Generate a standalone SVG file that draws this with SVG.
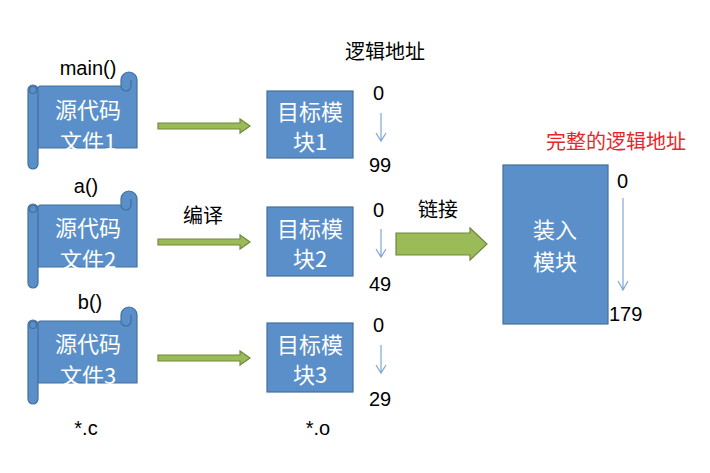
<svg xmlns="http://www.w3.org/2000/svg" width="710" height="473" viewBox="0 0 710 473">
<style>
.b{fill:#5b8fc9;stroke:#41719c;stroke-width:1.2}
.w{font-family:"Noto Sans CJK SC","Liberation Sans",sans-serif;font-size:22px;fill:#fff;text-anchor:middle}
.k{font-family:"Liberation Sans","Noto Sans CJK SC",sans-serif;font-size:20px;fill:#000;text-anchor:middle}
.g{fill:#9bbb59;stroke:#71893f;stroke-width:1.2}
.t{stroke:#7da7d8;stroke-width:1.2;fill:none}
</style>
<defs>
<g id="scroll">
<path class="b" d="M24,8 H105 V2 a8,8 0 0 1 16,0 V70 H18 V12 Z"/>
<path class="b" d="M12,12 V86 a5,5 0 0 0 10,0 V12 a5,5 0 0 0 -10,0 Z"/>
<path class="b" d="M105,8 a5,5 0 0 0 10,0 V2" />
<circle cx="17" cy="12" r="3.5" class="b"/>
</g>
</defs>
<g id="labels">
<text class="k" x="88" y="75">main()</text>
<text class="k" x="86" y="193">a()</text>
<text class="k" x="90" y="309">b()</text>
<text class="k" x="86" y="435">*.c</text>
<text class="k" x="318" y="435">*.o</text>
<text class="k" x="385" y="59">逻辑地址</text>
<text class="k" x="616" y="149" style="fill:#e8262a">完整的逻辑地址</text>
<text class="k" x="203" y="223">编译</text>
<text class="k" x="438" y="217">链接</text>
</g>
<g id="src1"><use href="#scroll" transform="translate(16,78)"/><text class="w" x="88" y="118">源代码</text><text class="w" x="88" y="150">文件1</text></g>
<g id="src2"><use href="#scroll" transform="translate(16,197)"/><text class="w" x="88" y="236">源代码</text><text class="w" x="88" y="268">文件2</text></g>
<g id="src3"><use href="#scroll" transform="translate(16,313)"/><text class="w" x="88" y="352">源代码</text><text class="w" x="88" y="384">文件3</text></g>
<g id="obj1"><rect class="b" x="267" y="91" width="86" height="67"/><text class="w" x="310" y="120">目标模</text><text class="w" x="310" y="150">块1</text></g>
<g id="obj2"><rect class="b" x="267" y="207" width="86" height="69"/><text class="w" x="310" y="237">目标模</text><text class="w" x="310" y="267">块2</text></g>
<g id="obj3"><rect class="b" x="267" y="323" width="86" height="69"/><text class="w" x="310" y="353">目标模</text><text class="w" x="310" y="383">块3</text></g>
<g id="load"><rect class="b" x="503" y="165" width="105" height="159"/><text class="w" x="555" y="238">装入</text><text class="w" x="555" y="270">模块</text></g>
<g id="connectors">
<path class="g" d="M158,123 H240 V119 L250,126 L240,133 V129 H158 Z"/>
<path class="g" d="M158,239 H240 V235 L250,242 L240,249 V245 H158 Z"/>
<path class="g" d="M158,355 H240 V351 L250,358 L240,365 V361 H158 Z"/>
<path class="g" d="M396,233 H470 V228 L487,244 L470,260 V255 H396 Z"/>
<path class="t" d="M381,113 V140 M376,133 L381,141 L386,133"/>
<path class="t" d="M381,229 V256 M376,249 L381,257 L386,249"/>
<path class="t" d="M381,345 V372 M376,365 L381,373 L386,365"/>
<path class="t" d="M623,198 V289 M618,281 L623,290 L628,281"/>
</g>
<g id="nums" font-family="Liberation Sans,sans-serif" font-size="20">
<text x="373" y="100">0</text><text x="369" y="172">99</text>
<text x="373" y="217">0</text><text x="369" y="291">49</text>
<text x="373" y="332">0</text><text x="369" y="406">29</text>
<text x="617" y="188">0</text><text x="609" y="321">179</text>
</g>
</svg>
